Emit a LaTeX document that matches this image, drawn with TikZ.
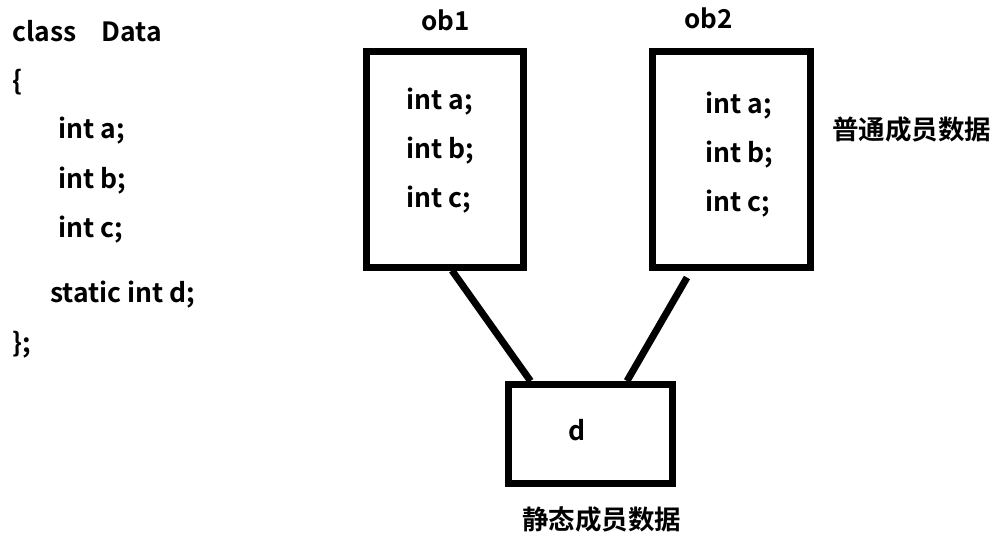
\documentclass[tikz,border=0pt]{standalone}
\usepackage{fontspec}
\setmainfont{Noto Sans CJK SC}[BoldFont={* Bold}]
\usepackage{tikz}
\tikzset{
  codeline/.style = {anchor=base west, inner sep=0pt, font=\bfseries\fontsize{26.5}{30}\selectfont},
  objbox/.style   = {shape=rectangle, draw, line width=7pt, inner sep=0pt},
  objname/.style  = {codeline, font=\bfseries\fontsize{26}{30}\selectfont},
  link/.style     = {draw, line width=7pt}
}

\begin{document}
\begin{tikzpicture}
  [
    x=1pt, y=-1pt
  ]
  \useasboundingbox (0,0) rectangle (997,547);
  % class definition
  \node [codeline] (cls)   at (12,41)  {class\hspace{25pt}Data};
  \node [codeline] (open)  at (12,90)  {\{};
  \node [codeline] (ma)    at (58,138) {int a;};
  \node [codeline] (mb)    at (58,188) {int b;};
  \node [codeline] (mc)    at (58,237) {int c;};
  \node [codeline] (md)    at (50,302) {static int d;};
  \node [codeline] (close) at (12,352) {\};};
  % objects
  \node [objbox, minimum width=157pt, minimum height=216pt] (box1) at (444.5,159) {};
  \node [objbox, minimum width=158pt, minimum height=216pt] (box2) at (731.5,159) {};
  \node [objname] (ob1) at (421,30) {ob1};
  \node [objname] (ob2) at (684,28) {ob2};
  \node [codeline] (a1) at (406,109) {int a;};
  \node [codeline] (b1) at (406,158) {int b;};
  \node [codeline] (c1) at (406,207) {int c;};
  \node [codeline] (a2) at (705,113) {int a;};
  \node [codeline] (b2) at (705,162) {int b;};
  \node [codeline] (c2) at (705,211) {int c;};
  \node [codeline] (normal) at (832,139) {普通成员数据};
  % static member
  \node [objbox, minimum width=164pt, minimum height=99pt] (boxd) at (590.5,434) {};
  \node [codeline] (dd) at (568,440) {d};
  \node [codeline] (static) at (522,529) {静态成员数据};
  \path [link] ([xshift=7.5pt]box1.south) -- ([xshift=-60pt]boxd.north);
  \path [link] ([xshift=-44.5pt,yshift=-7pt]box2.south) -- ([xshift=36.5pt]boxd.north);
\end{tikzpicture}
\end{document}
